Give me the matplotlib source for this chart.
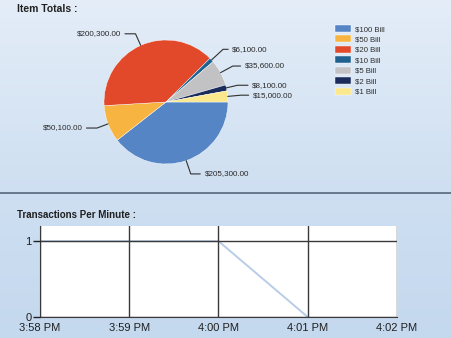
import numpy as np
import matplotlib
matplotlib.use('Agg')
import matplotlib.pyplot as plt

plt.rcParams['font.family'] = ['Liberation Sans', 'DejaVu Sans']

# 데이터
bills = ['$100 Bill', '$50 Bill', '$20 Bill', '$10 Bill', '$5 Bill', '$2 Bill', '$1 Bill']
totals = [205300, 50100, 200300, 6100, 35600, 8100, 15000]
bill_colors = ['#5585c5', '#f8b440', '#e2492a', '#1f6190', '#c2c2c4', '#1b2c5c', '#fbe78c']
# 라벨 위치 (파이 반지름 단위)
label_pos = [(0.62, -1.16), (-1.35, -0.42), (-0.73, 1.10), (1.07, 0.85),
             (1.27, 0.58), (1.39, 0.27), (1.40, 0.11)]

times = ['3:58 PM', '3:59 PM', '4:00 PM', '4:01 PM', '4:02 PM']
tpm = [1, 1, 1, 0]

W, H = 452, 338
fig = plt.figure(figsize=(W / 100, H / 100), dpi=100)

# 배경 그라데이션
bg = fig.add_axes([0, 0, 1, 1], zorder=-10)
top = np.array([228, 237, 248]) / 255
mid = np.array([206, 223, 241]) / 255
bot = np.array([196, 216, 238]) / 255
ys = np.linspace(0, 1, 338)[:, None]
grad = np.where(ys < 0.57, top + (mid - top) * (ys / 0.57), mid + (bot - mid) * ((ys - 0.57) / 0.43))
bg.imshow(grad[:, None, :].repeat(2, axis=1), aspect='auto', extent=[0, 1, 0, 1])
bg.axhline(1 - 193 / H, color='#56657a', lw=1.2)
bg.set_xlim(0, 1); bg.set_ylim(0, 1)
bg.axis('off')

def fx(px): return px / W
def fy(py): return 1 - py / H

fig.text(fx(17), fy(9), 'Item Totals :', fontsize=7.5, fontweight='bold', color='#202020', va='center')
fig.text(fx(17), fy(215), 'Transactions Per Minute :', fontsize=7, fontweight='bold', color='#202020', va='center')

# 파이 차트
cx, cy, r = 166, 102, 62
ax = fig.add_axes([fx(cx - 2 * r), fy(cy + 1.5 * r), 4 * r / W, 3 * r / H])
wedges, _ = ax.pie(totals, colors=bill_colors, startangle=0, counterclock=False, radius=1,
                   wedgeprops=dict(edgecolor='white', linewidth=0.3))
ax.set_xlim(-2, 2); ax.set_ylim(-1.5, 1.5)
ax.set_aspect('auto')
ax.axis('off')

for w, v, (tx, ty) in zip(wedges, totals, label_pos):
    ang = np.deg2rad((w.theta1 + w.theta2) / 2)
    x, y = np.cos(ang), np.sin(ang)
    ha = 'left' if tx > 0 else 'right'
    ax.annotate(f'${v:,.2f}', xy=(x, y), xytext=(tx, ty), ha=ha, va='center',
                fontsize=5.8, color='#282828', annotation_clip=False,
                arrowprops=dict(arrowstyle='-', color='#303030', lw=0.8, shrinkA=1, shrinkB=0,
                                connectionstyle=f'angle,angleA=0,angleB={np.rad2deg(ang):.1f},rad=0'))

fig.legend(wedges, bills, loc='upper left', bbox_to_anchor=(fx(331), fy(21)), frameon=False,
           fontsize=5.6, labelspacing=0.3, handlelength=2.1, handleheight=1.0,
           handletextpad=0.5, borderpad=0, labelcolor='#303030')

# 분당 거래 수
ax2 = fig.add_axes([fx(40), fy(317), 357 / W, 91 / H])
ax2.set_facecolor('white')
ax2.plot(range(len(tpm)), tpm, color='#b9cde6', lw=1.4)
ax2.set_xlim(0, len(times) - 1)
ax2.set_ylim(0, 1.2)
ax2.set_xticks(range(len(times)), times)
ax2.set_yticks([0, 1])
ax2.set_axisbelow(False)
ax2.grid(True, color='#3a3a3a', lw=1.0)
for s in ['top', 'right']:
    ax2.spines[s].set_visible(False)
for s in ['left', 'bottom']:
    ax2.spines[s].set_color('#3a3a3a')
ax2.tick_params(axis='x', length=0, pad=4, labelsize=8, colors='#202020')
ax2.tick_params(axis='y', length=5, width=1, pad=1, labelsize=8, colors='#202020')

plt.savefig('out.png', dpi=100)
